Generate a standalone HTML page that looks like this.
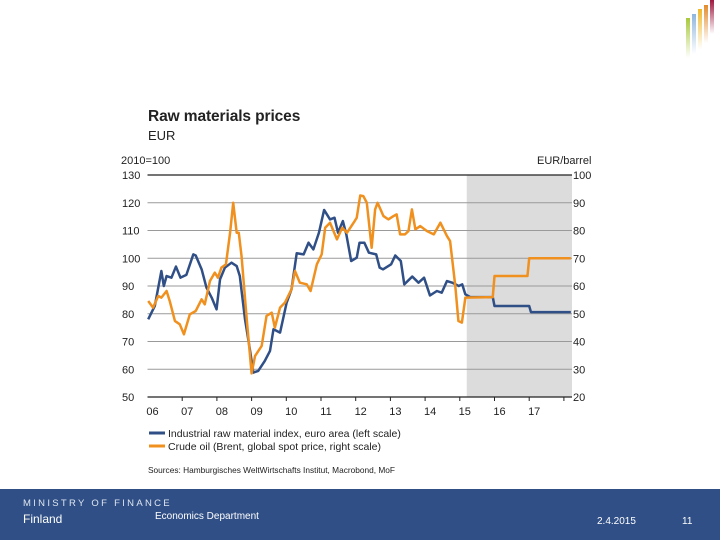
<!DOCTYPE html>
<html><head><meta charset="utf-8"><style>
body{margin:0;width:720px;height:540px;background:#fff;overflow:hidden;font-family:"Liberation Sans",Arial,sans-serif;position:relative}
.t{position:absolute;white-space:nowrap}
</style></head><body>
<div style="position:absolute;left:686px;top:0;width:34px;height:60px">
<div style="position:absolute;left:0;top:18px;width:4px;height:40px;background:linear-gradient(#a8c93a,rgba(168,201,58,0))"></div>
<div style="position:absolute;left:6px;top:14px;width:4px;height:40px;background:linear-gradient(#8fb6dd,rgba(143,182,221,0))"></div>
<div style="position:absolute;left:12px;top:9px;width:4px;height:40px;background:linear-gradient(#f0b929,rgba(240,185,41,0))"></div>
<div style="position:absolute;left:18px;top:5px;width:4px;height:38px;background:linear-gradient(#e38a2c,rgba(227,138,44,0))"></div>
<div style="position:absolute;left:24px;top:0;width:4px;height:34px;background:linear-gradient(#a0173e,rgba(160,23,62,0))"></div>
</div>
<div class="t" style="left:148px;top:108px;font-size:15.5px;font-weight:bold;color:#222;letter-spacing:-0.1px">Raw materials prices</div>
<div class="t" style="left:148px;top:128px;font-size:13px;color:#222">EUR</div>
<svg id="chart" width="720" height="540" style="position:absolute;left:0;top:0" font-family="Liberation Sans, Arial, sans-serif"></svg>
<div style="position:absolute;left:0;top:489px;width:720px;height:51px;background:#2f4f86">
<div class="t" style="left:23px;top:9px;font-size:9.5px;letter-spacing:2.3px;color:#dfe6f0">MINISTRY OF FINANCE</div>
<div class="t" style="left:23px;top:23px;font-size:12px;color:#fff">Finland</div>
<div class="t" style="left:155px;top:22px;font-size:10px;color:#fff">Economics Department</div>
<div class="t" style="left:597px;top:27px;font-size:10px;color:#fff">2.4.2015</div>
<div class="t" style="left:682px;top:27px;font-size:10px;color:#fff">11</div>
</div>
<script>
const leftTicks=[50,60,70,80,90,100,110,120,130];
const rightTicks=[20,30,40,50,60,70,80,90,100];
const yearLabels=["06","07","08","09","10","11","12","13","14","15","16","17"];
const indYears=[2006.02,2006.21,2006.40,2006.47,2006.55,2006.69,2006.82,2006.95,2007.12,2007.32,2007.39,2007.56,2007.70,2007.85,2007.99,2008.09,2008.23,2008.42,2008.57,2008.66,2008.81,2008.95,2009.05,2009.19,2009.38,2009.53,2009.63,2009.82,2010.01,2010.15,2010.30,2010.50,2010.64,2010.78,2010.94,2011.09,2011.26,2011.39,2011.49,2011.63,2011.73,2011.87,2012.03,2012.11,2012.25,2012.38,2012.59,2012.69,2012.79,2013.02,2013.14,2013.30,2013.40,2013.63,2013.81,2013.97,2014.14,2014.34,2014.48,2014.63,2014.78,2014.97,2015.07,2015.16,2015.30,2015.95,2016.0,2017.0,2017.05,2018.2];
const indVals=[78,82.8,95.4,90,93.6,93,97,93,94,101.4,101,96,89.4,85.8,81.6,92.4,96.6,98.4,97.2,93.6,78,67.2,58.8,59.4,63,66.6,74.4,73.2,84,88.8,101.8,101.4,105.6,103.2,109.2,117.4,114,114.6,109.2,113.4,108.6,99,100.2,105.6,105.6,102,101.4,96.6,96,97.8,101,99,90.6,93.4,91.2,93,86.6,88.2,87.6,91.8,91.2,90,90.6,87,86,86,82.8,82.8,80.6,80.6];
const oilYears=[2006.02,2006.16,2006.31,2006.40,2006.55,2006.64,2006.79,2006.93,2007.05,2007.22,2007.39,2007.56,2007.65,2007.80,2007.94,2008.03,2008.13,2008.26,2008.38,2008.47,2008.57,2008.63,2008.71,2008.86,2009.00,2009.10,2009.29,2009.43,2009.58,2009.67,2009.82,2009.96,2010.15,2010.25,2010.39,2010.59,2010.70,2010.88,2011.02,2011.12,2011.26,2011.46,2011.61,2011.75,2011.94,2012.03,2012.13,2012.22,2012.32,2012.46,2012.56,2012.63,2012.80,2012.94,2013.09,2013.18,2013.28,2013.42,2013.52,2013.62,2013.72,2013.86,2014.05,2014.25,2014.44,2014.63,2014.72,2014.87,2014.96,2015.06,2015.16,2015.95,2016.0,2016.95,2017.0,2018.2];
const oilVals=[54.6,52.2,56.4,55.8,58.2,54.6,47.4,46.2,42.6,49.8,51,55.2,53.4,61.8,64.8,63,66.6,67.8,79.2,90,79.2,79.2,70.8,48,28.5,34.8,38.4,49.2,50.4,45,52.2,54,58.8,65.4,61.2,60.6,58.2,67.8,71.4,81,82.8,76.8,81,79.2,82.8,84.6,92.6,92.4,90,73.8,87.6,90,85.2,84,85.2,85.8,78.6,78.6,79.8,87.6,80.4,81.6,79.8,78.6,82.8,78,76.2,60,47.4,46.8,55.8,56,63.6,63.6,70,70];
const svg=document.getElementById('chart');const NS='http://www.w3.org/2000/svg';
const X0=147.5,PX=34.7,YT=175,YB=397;
const xs=y=>X0+(y-2006)*PX;
const yl=v=>YB-(v-50)/80*(YB-YT);
const yr=v=>YB-(v-20)/80*(YB-YT);
function mk(tag,at,parent){const e=document.createElementNS(NS,tag);for(const k in at)e.setAttribute(k,at[k]);(parent||svg).appendChild(e);return e;}
const shade=mk('rect',{x:xs(2015.2),y:YT,width:572-xs(2015.2),height:YB-YT,fill:'#dcdcdc'});


leftTicks.forEach((v,i)=>{
 if(v>50&&v<130){const g=mk('line',{x1:X0,x2:572,y1:yl(v),y2:yl(v),stroke:'#9a9a9a','stroke-width':1});
 
 }
 const t=mk('text',{x:122,y:yl(v)+4,'font-size':11,fill:'#222'});t.textContent=v;
 
 
 const r=mk('text',{x:573,y:yr(rightTicks[i])+4,'font-size':11,fill:'#222'});r.textContent=rightTicks[i];
 
 
});
const frameTop=mk('line',{x1:X0,x2:572,y1:YT,y2:YT,stroke:'#222','stroke-width':1.2});


const xAxisLine=mk('line',{x1:X0,x2:572,y1:YB,y2:YB,stroke:'#222','stroke-width':1.2});


yearLabels.forEach((l,i)=>{
 const tk=mk('line',{x1:xs(2007+i),x2:xs(2007+i),y1:YB,y2:YB+4,stroke:'#222'});
 
 
 const t=mk('text',{x:xs(2006+i)+5,y:YB+18,'font-size':11,fill:'#222','text-anchor':'middle'});t.textContent=l;
 
 
});
const lt=mk('text',{x:121,y:164,'font-size':11,fill:'#222'});lt.textContent='2010=100';


const rt=mk('text',{x:537,y:164,'font-size':11,fill:'#222'});rt.textContent='EUR/barrel';


const ind=mk('polyline',{points:indYears.map((y,i)=>xs(y)+','+yl(indVals[i])).join(' '),fill:'none',stroke:'#2f4f86','stroke-width':2.5,'stroke-linejoin':'round'});


const oil=mk('polyline',{points:oilYears.map((y,i)=>xs(y)+','+yr(oilVals[i])).join(' '),fill:'none',stroke:'#f0901e','stroke-width':2.5,'stroke-linejoin':'round'});


[['#2f4f86','Industrial raw material index, euro area (left scale)',433],['#f0901e','Crude oil (Brent, global spot price, right scale)',446]].forEach(([c,l,y])=>{
 const s=mk('line',{x1:149,x2:165,y1:y,y2:y,stroke:c,'stroke-width':3});
 
 
 const t=mk('text',{x:168,y:y+4,'font-size':10.5,fill:'#222'});t.textContent=l;
 
 
});
const src=mk('text',{x:148,y:473,'font-size':8.5,fill:'#222',textLength:247,lengthAdjust:'spacingAndGlyphs'});src.textContent='Sources: Hamburgisches WeltWirtschafts Institut, Macrobond, MoF';


</script>
</body></html>
